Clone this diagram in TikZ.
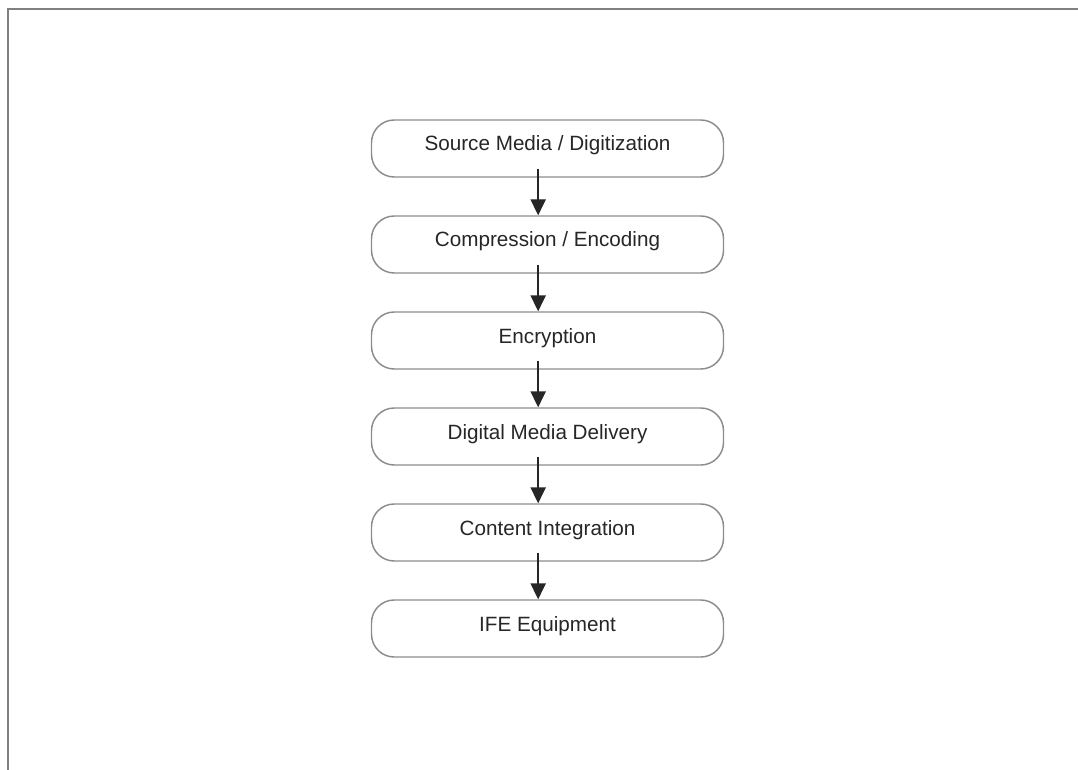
\documentclass[tikz,border=0pt]{standalone}
\usepackage{fontspec}
\setmainfont{Liberation Sans}
\usetikzlibrary{arrows.meta}
\definecolor{framegray}{RGB}{128,128,128}
\definecolor{boxgray}{RGB}{140,140,140}
\begin{document}
\begin{tikzpicture}[x=0.75pt,y=-0.75pt,
  stagebox/.style={draw=boxgray, line width=1.1pt, rounded corners=17pt,
    minimum width=264pt, minimum height=42.75pt, inner sep=0pt,
    text height=10pt, text depth=6.25pt, font=\fontsize{15.5pt}{18pt}\selectfont,
    text=black!85},
  flow/.style={draw=black!85, line width=1.1pt, -{Triangle[width=11.5pt,length=12pt]}}]
  \useasboundingbox (0,0) rectangle (1078,770);
  % outer frame (top and left edges)
  \draw[framegray, line width=1.5pt] (8,770) -- (8,9) -- (1078,9);
  % process stages
  \node[stagebox] (b1) at (547.5,148.5) {Source Media / Digitization};
  \node[stagebox] (b2) at (547.5,244.5) {Compression / Encoding};
  \node[stagebox] (b3) at (547.5,340.5) {Encryption};
  \node[stagebox] (b4) at (547.5,436.5) {Digital Media Delivery};
  \node[stagebox] (b5) at (547.5,532.5) {Content Integration};
  \node[stagebox] (b6) at (547.5,628.5) {IFE Equipment};
  % connectors
  \foreach \a/\b in {b1/b2,b2/b3,b3/b4,b4/b5,b5/b6}
    \draw[flow] ([xshift=-7pt,yshift=6.75pt]\a.south) -- ([xshift=-7pt]\b.north);
\end{tikzpicture}
\end{document}
